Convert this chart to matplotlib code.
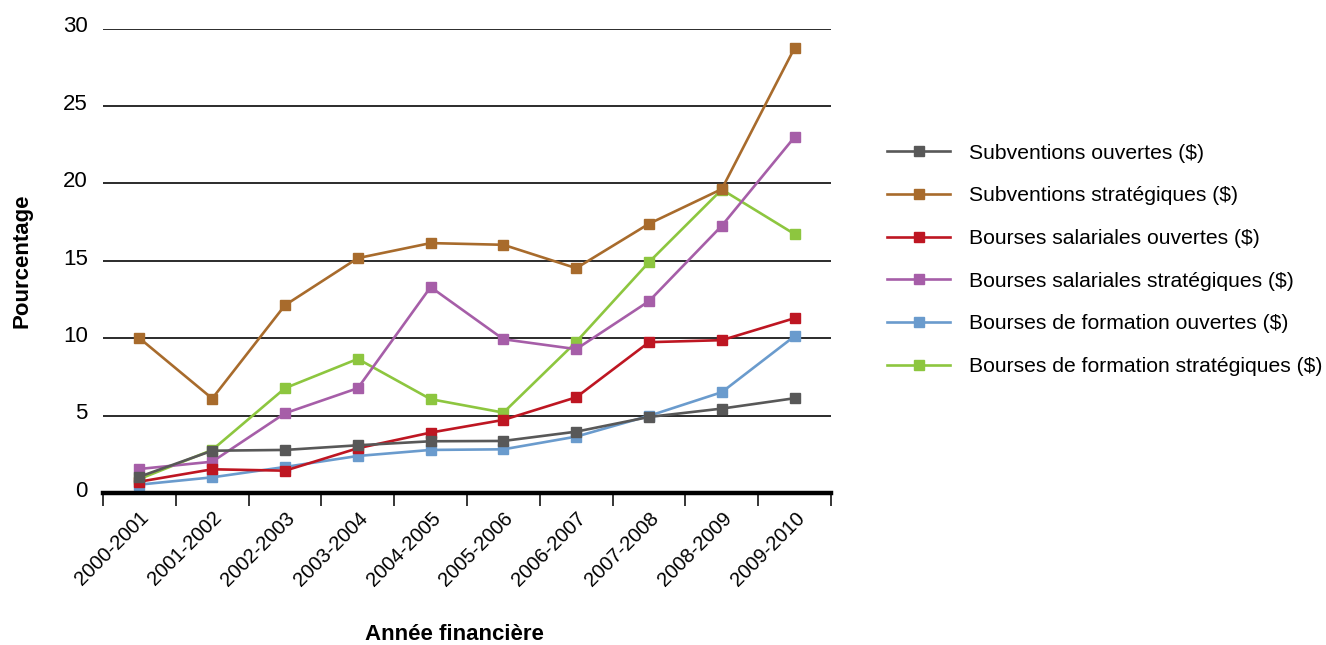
import matplotlib
matplotlib.use('Agg')
import matplotlib.pyplot as plt
import matplotlib.transforms as mtransforms
import numpy as np

plt.rcParams['font.family'] = ['Liberation Sans', 'DejaVu Sans']

# données
annees = ['2000-2001', '2001-2002', '2002-2003', '2003-2004', '2004-2005',
          '2005-2006', '2006-2007', '2007-2008', '2008-2009', '2009-2010']
subv_ouvertes = [1.05, 2.73, 2.78, 3.08, 3.34, 3.36, 3.96, 4.91, 5.45, 6.12]
subv_strategiques = [10.0, 6.1, 12.13, 15.17, 16.14, 16.03, 14.52, 17.39, 19.63, 28.75]
bsal_ouvertes = [0.73, 1.53, 1.44, 2.89, 3.9, 4.72, 6.18, 9.74, 9.87, 11.29]
bsal_strategiques = [1.55, 2.02, 5.15, 6.77, 13.3, 9.93, 9.29, 12.39, 17.26, 22.99]
bform_ouvertes = [0.54, 1.01, 1.68, 2.39, 2.78, 2.82, 3.64, 4.98, 6.51, 10.13]
bform_strategiques = [0.9, 2.78, 6.77, 8.66, 6.06, 5.19, 9.76, 14.91, 19.6, 16.72]

series = [
    ('Subventions ouvertes ($)', subv_ouvertes, '#585858'),
    ('Subventions stratégiques ($)', subv_strategiques, '#A86B2C'),
    ('Bourses salariales ouvertes ($)', bsal_ouvertes, '#BE1622'),
    ('Bourses salariales stratégiques ($)', bsal_strategiques, '#A65EA8'),
    ('Bourses de formation ouvertes ($)', bform_ouvertes, '#6A9BCD'),
    ('Bourses de formation stratégiques ($)', bform_strategiques, '#8DC63F'),
]

fig = plt.figure(figsize=(13.26, 6.45), dpi=100)
ax = fig.add_axes([0.0777, 0.2357, 0.549, 0.7201])

x = np.arange(len(annees))
for i, (nom, vals, col) in enumerate(series):
    ax.plot(x, vals, color=col, lw=1.9, marker='s', ms=6.5, label=nom,
            zorder=10 - i)

ax.set_xlim(-0.5, len(annees) - 0.5)
ax.set_ylim(0, 30)
ax.set_yticks(np.arange(0, 31, 5))
for v in range(5, 31, 5):
    ax.axhline(v, color='#1a1a1a', lw=1.3, zorder=1)

for s in ['left', 'right', 'top']:
    ax.spines[s].set_visible(False)
ax.spines['bottom'].set_linewidth(3.2)
ax.spines['bottom'].set_color('black')
ax.spines['bottom'].set_zorder(12)

ax.set_xticks(x)
ax.set_xticklabels(annees, rotation=45, ha='right', va='top',
                   rotation_mode='anchor', fontsize=14.5)
ax.set_xticks(np.arange(-0.5, len(annees)), minor=True)
ax.tick_params(axis='x', which='major', length=0, pad=11)
ax.tick_params(axis='x', which='minor', length=9, width=1.1, color='black')
ax.tick_params(axis='y', length=0, pad=11, labelsize=16)
off = mtransforms.ScaledTranslation(0, 3 / 72, fig.dpi_scale_trans)
for lab in ax.get_yticklabels():
    lab.set_transform(lab.get_transform() + off)

ax.set_ylabel('Pourcentage', fontsize=16, fontweight='bold', labelpad=22)
fig.text(0.343, 0.0, 'Année financière', fontsize=16, fontweight='bold',
         ha='center', va='bottom')

ax.legend(loc='upper left', bbox_to_anchor=(0.669, 0.777),
          bbox_transform=fig.transFigure, frameon=False, fontsize=15.2,
          handlelength=3.0, handletextpad=0.88, labelspacing=1.12,
          borderpad=0, borderaxespad=0)

fig.savefig('out.png', dpi=100)
